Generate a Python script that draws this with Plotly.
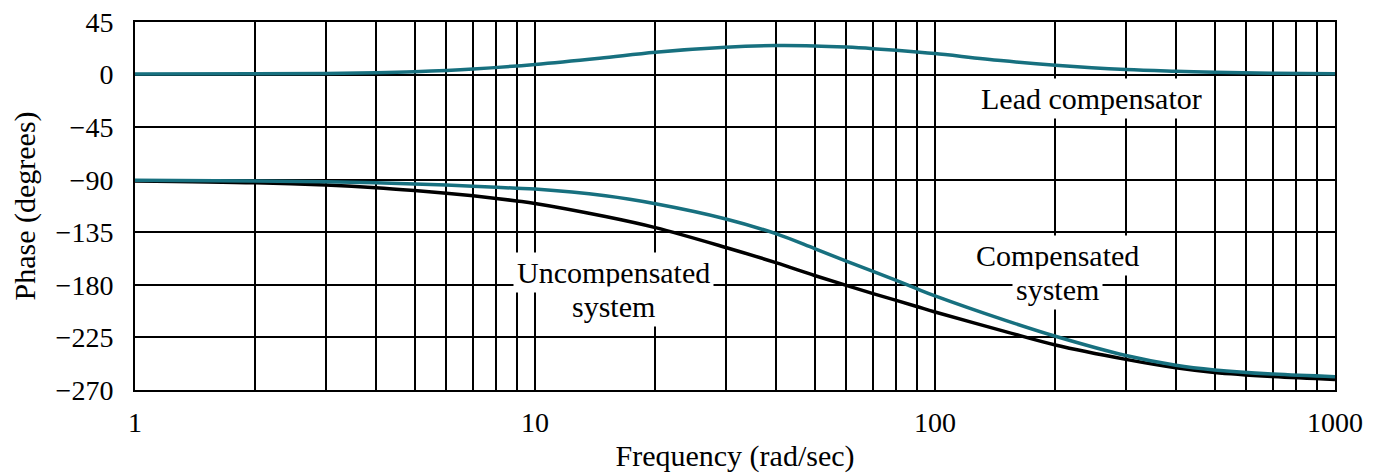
import math
import plotly.graph_objects as go

# Frequency points (rad/sec) and phase readings (degrees)
freq_lead = [1, 2, 3, 4, 5, 7, 10, 14.5, 20, 30, 40, 50, 60, 70, 80, 90, 100,
             146, 200, 300, 400, 500, 700, 1000]
phase_lead = [0.5, 0.7, 1.0, 1.6, 2.5, 4.8, 8.7, 14.0, 19.2, 23.4, 24.8, 24.5,
              23.5, 22.2, 20.8, 19.4, 18.0, 12.0, 8.0, 4.3, 2.8, 1.9, 1.1, 0.6]

freq_sys = [1, 2, 3, 4, 5, 6, 7, 8, 9, 10, 15, 20, 30, 40, 50, 60, 70, 80, 90,
            100, 150, 200, 300, 400, 500, 700, 1000]
phase_uncomp = [-91.0, -92.6, -94.6, -96.8, -99.2, -101.5, -103.8, -106.0,
                -108.2, -110.3, -121.5, -131.0, -148.0, -161.0, -172.0, -180.5,
                -187.5, -193.3, -198.5, -203.2, -220.0, -231.5, -243.8, -251.0,
                -255.0, -258.5, -261.0]
phase_comp = [-90.4, -91.0, -91.8, -92.6, -93.6, -94.6, -95.6, -96.5, -97.3,
              -98.0, -103.8, -110.6, -123.6, -136.2, -149.0, -159.7, -168.5,
              -176.2, -183.3, -189.4, -210.4, -224.0, -240.5, -248.8, -252.8,
              -256.4, -258.6]

y_ticks = [45, 0, -45, -90, -135, -180, -225, -270]
x_ticks = [1, 10, 100, 1000]
x_tick_labels = ["1", "10", "100", "1000"]

TEAL = "#17707f"
FONT = "Liberation Serif"

fig = go.Figure()
fig.add_trace(go.Scatter(x=freq_lead, y=phase_lead, mode="lines",
                         line=dict(color=TEAL, width=3.5, shape="spline"),
                         name="Lead compensator"))
fig.add_trace(go.Scatter(x=freq_sys, y=phase_uncomp, mode="lines",
                         line=dict(color="black", width=3.5, shape="spline"),
                         name="Uncompensated system"))
fig.add_trace(go.Scatter(x=freq_sys, y=phase_comp, mode="lines",
                         line=dict(color=TEAL, width=3.5, shape="spline"),
                         name="Compensated system"))

# Curve labels with white boxes that break the grid behind them
labels = [
    ("Lead compensator", 246, -20.3),
    ("Uncompensated", 15.75, -169.0),
    ("system", 15.75, -198.2),
    ("Compensated", 202, -155.0),
    ("system", 202, -184.0),
]
for text, fx, py in labels:
    fig.add_annotation(x=math.log10(fx), y=py, xref="x", yref="y", text=text,
                       showarrow=False, bgcolor="white", borderpad=3,
                       font=dict(family=FONT, size=30, color="black"))

fig.update_layout(
    width=1378, height=474,
    margin=dict(l=135, r=43, t=22, b=84),
    paper_bgcolor="white", plot_bgcolor="white",
    showlegend=False,
    font=dict(family=FONT, size=28, color="black"),
)
fig.update_xaxes(
    type="log", range=[0, 3], automargin=False,
    tickvals=x_ticks, ticktext=x_tick_labels,
    showgrid=True, gridcolor="black", gridwidth=2,
    minor=dict(dtick="D1", showgrid=True, gridcolor="black", gridwidth=2, ticks=""),
    showline=True, linecolor="black", linewidth=2, mirror=True,
    ticks="", ticklabelstandoff=6,
    title=dict(text="Frequency (rad/sec)", font=dict(size=30), standoff=8),
    zeroline=False,
)
fig.update_yaxes(
    range=[-270, 45], tickvals=y_ticks, automargin=False,
    showgrid=True, gridcolor="black", gridwidth=2,
    showline=True, linecolor="black", linewidth=2, mirror=True,
    ticks="", ticklabelstandoff=14,
    title=dict(text="Phase (degrees)", font=dict(size=30), standoff=11),
    zeroline=False,
)

fig.write_html("out.html")
